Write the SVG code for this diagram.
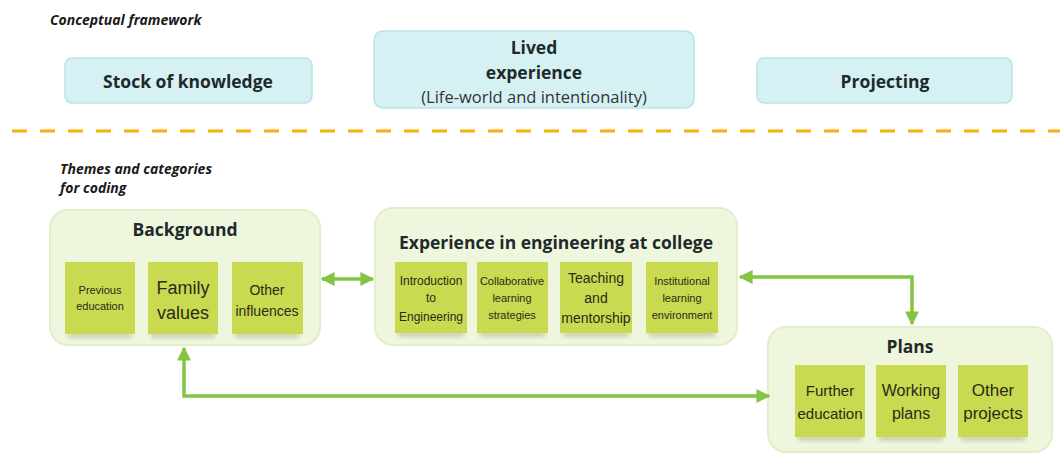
<svg xmlns="http://www.w3.org/2000/svg" width="1060" height="453" viewBox="0 0 1060 453">
<defs>
<style>
.lbl{font-family:"Open Sans","Liberation Sans",sans-serif;font-weight:bold;fill:#1e2a2a;text-anchor:middle}
.top{fill:#d6f1f3;stroke:#b9e4e8;stroke-width:1.5}
.grp{fill:#eef6dd;stroke:#e2eecb;stroke-width:2}
.note{fill:#c9da50}
.shadow{fill:#8a8f60;opacity:0.35}
.hw{font-family:"Liberation Sans",sans-serif;fill:#2a2a1a;text-anchor:middle}
.conn{fill:none;stroke:#84c444;stroke-width:3.5}
.cap{font-family:"Open Sans","Liberation Sans",sans-serif;font-weight:bold;font-style:italic;font-size:14px;fill:#1a1a1a}
</style>
<marker id="ah" viewBox="0 0 10 10" refX="9" refY="5" markerWidth="4" markerHeight="4" orient="auto-start-reverse" markerUnits="strokeWidth">
<path d="M0,0 L10,5 L0,10 z" fill="#84c444"/>
</marker>
<filter id="blur" x="-20%" y="-50%" width="140%" height="200%"><feGaussianBlur stdDeviation="2"/></filter>
</defs>
<rect width="1060" height="453" fill="#ffffff"/>
<text class="cap" x="50" y="25">Conceptual framework</text>
<g id="stock"><rect class="top" x="65" y="58" width="247" height="45" rx="7"/><text class="lbl" x="188" y="88" font-size="17.5">Stock of knowledge</text></g>
<g id="lived"><rect class="top" x="374" y="31" width="320" height="77" rx="9"/><text class="lbl" x="534" y="54" font-size="17.5">Lived</text><text class="lbl" x="534" y="79" font-size="17.5">experience</text><text class="lbl" x="534" y="103" font-size="16.5" style="font-weight:normal;fill:#333">(Life-world and intentionality)</text></g>
<g id="projecting"><rect class="top" x="757" y="58" width="255" height="45" rx="7"/><text class="lbl" x="885" y="88" font-size="17.5">Projecting</text></g>
<line x1="12" y1="131" x2="1060" y2="131" stroke="#f4b400" stroke-width="3" stroke-dasharray="15 13"/>
<text class="cap" x="60" y="174">Themes and categories</text>
<text class="cap" x="60" y="193">for coding</text>
<g id="background">
<rect class="grp" x="50" y="210" width="270" height="135" rx="18"/>
<text class="lbl" x="185" y="236" font-size="17.5">Background</text>
<rect class="shadow" x="68" y="332" width="64" height="6" filter="url(#blur)"/><rect class="note" x="65" y="262" width="70" height="72"/>
<text class="hw" x="100" y="294" font-size="11">Previous</text><text class="hw" x="100" y="310" font-size="11">education</text>
<rect class="shadow" x="151" y="332" width="64" height="6" filter="url(#blur)"/><rect class="note" x="148" y="262" width="70" height="72"/>
<text class="hw" x="183" y="294" font-size="18">Family</text><text class="hw" x="183" y="319" font-size="18">values</text>
<rect class="shadow" x="235" y="332" width="64" height="6" filter="url(#blur)"/><rect class="note" x="232" y="262" width="71" height="72"/>
<text class="hw" x="267" y="295" font-size="14">Other</text><text class="hw" x="267" y="316" font-size="14">influences</text>
</g>
<g id="experience">
<rect class="grp" x="375" y="208" width="362" height="137" rx="18"/>
<text class="lbl" x="556" y="249" font-size="17.5">Experience in engineering at college</text>
<rect class="shadow" x="398" y="331" width="66" height="6" filter="url(#blur)"/><rect class="note" x="395" y="262" width="72" height="71"/>
<text class="hw" x="431" y="285" font-size="12">Introduction</text><text class="hw" x="431" y="302" font-size="12">to</text><text class="hw" x="431" y="321" font-size="12">Engineering</text>
<rect class="shadow" x="480" y="331" width="65" height="6" filter="url(#blur)"/><rect class="note" x="477" y="262" width="71" height="71"/>
<text class="hw" x="512" y="285" font-size="11">Collaborative</text><text class="hw" x="512" y="302" font-size="11">learning</text><text class="hw" x="512" y="319" font-size="11">strategies</text>
<rect class="shadow" x="563" y="331" width="66" height="6" filter="url(#blur)"/><rect class="note" x="560" y="262" width="72" height="71"/>
<text class="hw" x="596" y="283" font-size="14">Teaching</text><text class="hw" x="596" y="303" font-size="14">and</text><text class="hw" x="596" y="323" font-size="14">mentorship</text>
<rect class="shadow" x="649" y="331" width="66" height="6" filter="url(#blur)"/><rect class="note" x="646" y="262" width="72" height="71"/>
<text class="hw" x="682" y="285" font-size="11">Institutional</text><text class="hw" x="682" y="302" font-size="11">learning</text><text class="hw" x="682" y="319" font-size="11">environment</text>
</g>
<g id="plans">
<rect class="grp" x="768" y="327" width="284" height="125" rx="18"/>
<text class="lbl" x="910" y="353" font-size="17.5">Plans</text>
<rect class="shadow" x="798" y="435" width="64" height="6" filter="url(#blur)"/><rect class="note" x="795" y="365" width="70" height="72"/>
<text class="hw" x="830" y="396" font-size="15">Further</text><text class="hw" x="830" y="419" font-size="15">education</text>
<rect class="shadow" x="879" y="435" width="64" height="6" filter="url(#blur)"/><rect class="note" x="876" y="365" width="70" height="72"/>
<text class="hw" x="911" y="396" font-size="16">Working</text><text class="hw" x="911" y="419" font-size="16">plans</text>
<rect class="shadow" x="961" y="435" width="64" height="6" filter="url(#blur)"/><rect class="note" x="958" y="365" width="70" height="72"/>
<text class="hw" x="993" y="396" font-size="17">Other</text><text class="hw" x="993" y="419" font-size="17">projects</text>
</g>
<g id="connectors">
<path class="conn" d="M322,279 L373,279" marker-start="url(#ah)" marker-end="url(#ah)"/>
<path class="conn" d="M740,277 L912,277 L912,324" marker-start="url(#ah)" marker-end="url(#ah)"/>
<path class="conn" d="M184,348 L184,396 L769,396" marker-start="url(#ah)" marker-end="url(#ah)"/>
</g>
</svg>
